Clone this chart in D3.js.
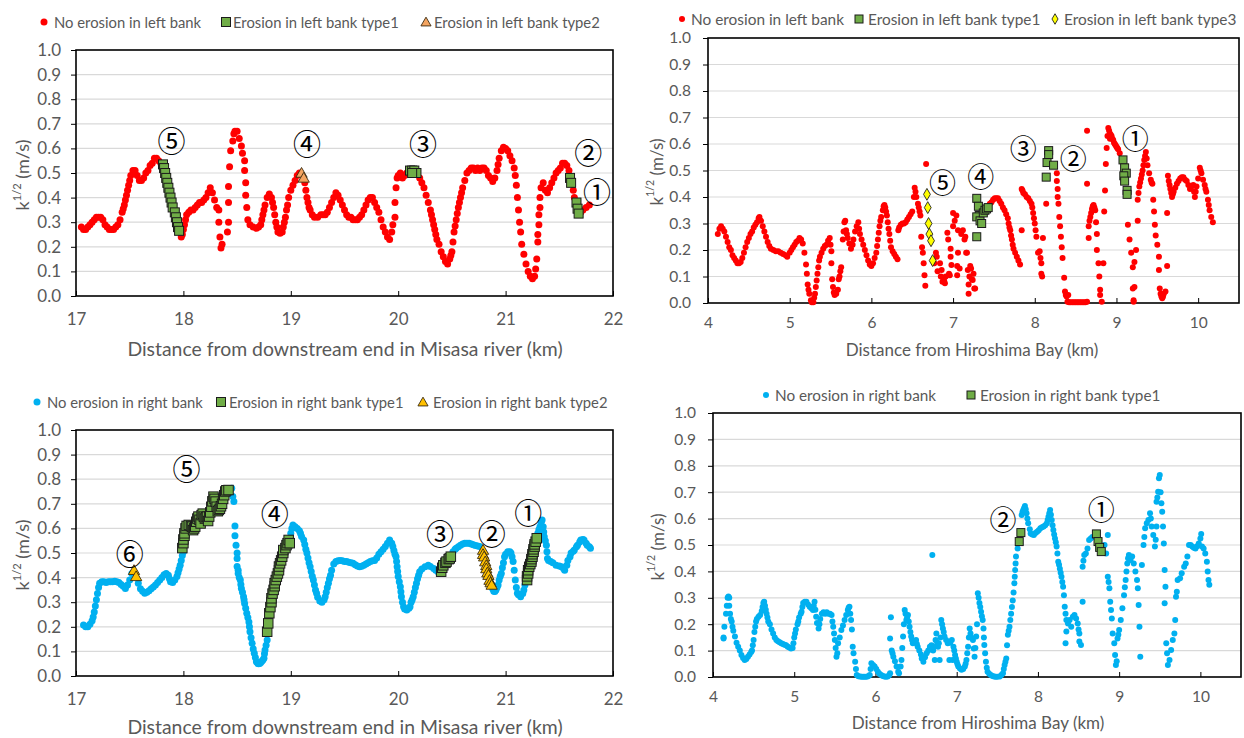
<!DOCTYPE html>
<html><head><meta charset="utf-8">
<script src="https://cdn.jsdelivr.net/npm/d3@7"></script>
<style>body{margin:0;background:#fff}svg{display:block}</style>
</head><body>
<svg id="chart" width="1244" height="738"></svg>
<script>
// ---------- tick labels ----------
const yTicks = [0,0.1,0.2,0.3,0.4,0.5,0.6,0.7,0.8,0.9,1.0];
const misasaTicks = [17,18,19,20,21,22];
const bayTicks = [4,5,6,7,8,9,10];

// ---------- Panel 1: Misasa river, left bank ----------
const misasaLeftNoErosion = [
[17.05,.28],[17.07,.27],[17.09,.27],[17.11,.28],[17.13,.29],[17.15,.30],[17.17,.31],[17.19,.32],[17.21,.32],[17.23,.32],[17.25,.31],[17.27,.29],[17.29,.28],[17.31,.27],[17.33,.27],[17.35,.27],[17.37,.28],[17.39,.29],[17.41,.31],[17.43,.34],[17.44,.355],[17.45,.37],[17.46,.39],[17.47,.41],[17.48,.43],[17.49,.45],[17.5,.47],[17.51,.49],[17.53,.51],[17.55,.51],[17.57,.49],[17.59,.47],[17.61,.47],[17.63,.48],[17.65,.50],[17.67,.51],[17.69,.53],[17.71,.54],[17.73,.56],[17.75,.56],[17.77,.55],[17.79,.54],
[17.98,.24],[17.99,.25],[18.0,.27],[18.01,.29],[18.02,.31],[18.03,.33],[18.05,.34],[18.07,.35],[18.09,.35],[18.11,.36],[18.13,.37],[18.15,.38],[18.17,.38],[18.19,.39],[18.21,.40],[18.23,.42],[18.25,.44],[18.27,.42],[18.29,.39],[18.31,.36],[18.33,.35],[18.33,.30],[18.34,.24],[18.35,.195],[18.36,.21],[18.41,.26],[18.42,.30],[18.42,.38],[18.42,.445],[18.43,.525],[18.44,.59],[18.46,.63],[18.47,.66],[18.48,.67],[18.5,.67],[18.52,.64],[18.54,.61],[18.55,.58],[18.57,.55],[18.57,.51],[18.58,.46],[18.58,.41],[18.59,.36],[18.6,.31],[18.62,.29],[18.65,.28],[18.68,.275],[18.7,.28],[18.72,.29],[18.73,.31],[18.74,.33],[18.75,.35],[18.76,.37],[18.78,.40],[18.8,.415],[18.82,.40],[18.83,.38],[18.84,.36],[18.85,.33],[18.86,.30],[18.87,.28],[18.88,.26],[18.9,.255],[18.92,.26],[18.93,.28],[18.94,.30],[18.95,.32],[18.96,.35],[18.97,.37],[18.98,.40],[19.0,.43],[19.02,.45],[19.04,.47],[19.06,.49],[19.08,.50],
[19.13,.46],[19.14,.43],[19.15,.40],[19.16,.38],[19.17,.36],[19.18,.35],[19.2,.33],[19.22,.32],[19.25,.32],[19.28,.33],[19.3,.33],[19.32,.33],[19.34,.34],[19.36,.36],[19.38,.38],[19.4,.40],[19.42,.42],[19.44,.41],[19.46,.39],[19.48,.37],[19.5,.35],[19.52,.33],[19.54,.32],[19.56,.32],[19.58,.31],[19.6,.31],[19.62,.31],[19.64,.32],[19.66,.33],[19.68,.35],[19.7,.37],[19.72,.39],[19.74,.40],[19.76,.40],[19.78,.38],[19.8,.36],[19.82,.34],[19.84,.31],[19.86,.28],[19.88,.26],[19.9,.24],[19.92,.23],[19.94,.26],[19.95,.29],[19.97,.32],[19.97,.38],[19.98,.44],[19.99,.48],[20.0,.49],[20.02,.50],[20.04,.48],[20.06,.49],[20.08,.50],
[20.18,.50],[20.2,.48],[20.22,.46],[20.24,.44],[20.26,.41],[20.28,.38],[20.3,.35],[20.31,.33],[20.32,.31],[20.33,.29],[20.34,.27],[20.35,.25],[20.36,.23],[20.38,.21],[20.4,.18],[20.42,.16],[20.44,.14],[20.46,.13],[20.48,.15],[20.49,.165],[20.5,.18],[20.51,.22],[20.52,.26],[20.53,.285],[20.54,.31],[20.55,.335],[20.56,.36],[20.57,.38],[20.58,.40],[20.59,.42],[20.6,.44],[20.62,.47],[20.64,.50],[20.66,.51],[20.68,.52],[20.7,.52],[20.72,.51],[20.74,.52],[20.76,.51],[20.78,.52],[20.8,.52],[20.82,.51],[20.84,.49],[20.86,.48],[20.88,.465],[20.9,.48],[20.92,.51],[20.93,.535],[20.94,.56],[20.96,.59],[20.98,.605],[21.0,.60],[21.02,.59],[21.04,.57],[21.06,.55],[21.08,.52],[21.09,.49],[21.1,.45],[21.11,.40],[21.12,.35],[21.13,.30],[21.14,.26],[21.15,.21],[21.17,.17],[21.19,.13],[21.21,.10],[21.23,.08],[21.25,.07],[21.27,.08],[21.28,.11],[21.29,.15],[21.3,.22],[21.3,.25],[21.31,.29],[21.31,.33],[21.32,.36],[21.32,.40],[21.33,.44],[21.35,.46],[21.37,.43],[21.39,.42],[21.41,.44],[21.43,.46],[21.45,.48],[21.47,.50],[21.49,.51],[21.51,.52],[21.53,.54],[21.55,.54],[21.57,.53],[21.59,.51],
[21.63,.43],[21.64,.40],[21.7,.34],[21.72,.35],[21.75,.36],[21.78,.37]
];
const misasaLeftType1 = [
[17.81,.535],[17.82,.52],[17.83,.50],[17.84,.48],[17.85,.46],[17.86,.44],[17.87,.42],[17.88,.40],[17.89,.38],[17.9,.36],[17.92,.34],[17.93,.32],[17.94,.30],[17.95,.28],[17.96,.265],
[20.11,.51],[20.13,.51],[20.15,.51],[20.17,.50],[20.13,.50],
[21.6,.48],[21.61,.46],[21.66,.38],[21.67,.355],[21.68,.335]
];
const misasaLeftType2 = [[19.1,.50],[19.12,.48]];
const misasaLeftLabels = [["⑤",17.89,.634],["④",19.15,.62],["③",20.23,.62],["②",21.77,.584],["①",21.85,.428]];

// ---------- Panel 2: Hiroshima Bay, left bank ----------
const bayLeftNoErosion = [
[4.12,.26],[4.14,.28],[4.16,.29],[4.18,.28],[4.2,.27],[4.22,.25],[4.24,.23],[4.26,.21],[4.28,.20],[4.3,.18],[4.32,.17],[4.34,.16],[4.36,.15],[4.38,.15],[4.4,.155],[4.42,.17],[4.44,.19],[4.46,.21],[4.48,.23],[4.5,.245],[4.52,.26],[4.54,.27],[4.56,.285],[4.58,.295],[4.6,.305],[4.62,.32],[4.63,.325],[4.65,.31],[4.67,.29],[4.69,.27],[4.71,.25],[4.73,.23],[4.75,.215],[4.77,.205],[4.8,.20],[4.83,.195],[4.86,.195],[4.89,.19],[4.92,.185],[4.95,.18],[4.97,.175],[5.0,.19],[5.02,.20],[5.04,.21],[5.06,.22],[5.08,.23],[5.1,.235],[5.12,.245],[5.14,.24],[5.16,.225],[5.18,.19],[5.2,.145],[5.21,.11],[5.22,.07],[5.23,.05],[5.24,.035],[5.26,.01],[5.27,.003],[5.29,.003],[5.3,.02],[5.31,.035],[5.32,.06],[5.33,.085],[5.34,.11],[5.35,.135],[5.36,.16],[5.37,.175],[5.39,.19],[5.41,.205],[5.43,.215],[5.45,.22],[5.47,.235],[5.49,.245],[5.5,.22],[5.51,.195],[5.51,.15],[5.52,.09],[5.53,.06],[5.54,.04],[5.55,.03],[5.57,.035],[5.59,.05],[5.6,.09],[5.61,.10],[5.62,.12],[5.63,.135],[5.65,.24],[5.66,.27],[5.67,.305],[5.68,.31],[5.69,.275],[5.7,.26],[5.71,.245],[5.73,.225],[5.75,.205],[5.77,.22],[5.78,.24],[5.8,.27],[5.82,.29],[5.84,.305],[5.85,.28],[5.86,.26],[5.88,.24],[5.9,.22],[5.92,.20],[5.94,.18],[5.96,.16],[5.98,.145],[6.0,.14],[6.02,.15],[6.04,.17],[6.06,.19],[6.07,.215],[6.08,.24],[6.09,.265],[6.1,.29],[6.11,.31],[6.12,.325],[6.14,.35],[6.15,.365],[6.16,.37],[6.17,.36],[6.18,.345],[6.19,.33],[6.2,.305],[6.21,.28],[6.22,.26],[6.23,.235],[6.24,.21],[6.26,.195],[6.28,.185],[6.3,.175],[6.32,.165],[6.33,.275],[6.34,.285],[6.36,.295],[6.38,.30],[6.4,.30],[6.42,.305],[6.44,.315],[6.46,.325],[6.48,.335],[6.5,.345],[6.52,.40],[6.53,.435],[6.54,.42],[6.55,.40],[6.57,.375],[6.58,.36],[6.59,.345],[6.6,.33],[6.61,.25],[6.62,.21],[6.63,.19],[6.64,.15],[6.65,.105],[6.66,.065],[6.67,.525],
[6.79,.19],[6.8,.175],[6.77,.15],[6.81,.12],[6.84,.15],[6.85,.10],[6.86,.125],[6.87,.08],[6.88,.095],[6.89,.085],[6.9,.075],[6.91,.10],[6.93,.265],[6.94,.24],[6.95,.11],[6.96,.105],[6.97,.205],[6.97,.175],[6.98,.143],[7.0,.34],[7.0,.29],[7.02,.31],[7.04,.33],[7.05,.14],[7.05,.105],[7.06,.275],[7.06,.19],[7.08,.13],[7.1,.26],[7.12,.275],[7.14,.24],[7.15,.25],[7.16,.19],[7.17,.19],[7.18,.125],[7.19,.07],[7.19,.035],[7.2,.10],[7.21,.14],[7.22,.13],[7.23,.09],[7.24,.087],[7.25,.11],[7.26,.055],[7.27,.055],
[7.45,.375],[7.47,.38],[7.49,.39],[7.51,.395],[7.53,.395],[7.55,.395],[7.57,.385],[7.59,.375],[7.61,.36],[7.63,.35],[7.65,.335],[7.67,.32],[7.68,.30],[7.69,.285],[7.7,.275],[7.71,.255],[7.72,.24],[7.73,.22],[7.74,.205],[7.76,.19],[7.78,.175],[7.8,.16],[7.82,.145],[7.84,.275],[7.84,.43],[7.85,.425],[7.86,.415],[7.88,.41],[7.9,.40],[7.92,.395],[7.94,.385],[7.96,.375],[7.97,.36],[7.98,.34],[7.99,.32],[8.0,.30],[8.01,.275],[8.02,.25],[8.04,.19],[8.06,.195],[8.07,.17],[8.08,.15],[8.08,.11],[8.09,.10],[8.1,.245],[8.14,.375],
[8.27,.49],[8.27,.46],[8.28,.43],[8.28,.40],[8.29,.375],[8.3,.325],[8.31,.29],[8.32,.25],[8.33,.21],[8.34,.17],[8.36,.095],[8.37,.043],[8.38,.03],[8.39,.025],[8.41,.03],[8.4,.005],[8.42,.003],[8.44,.003],[8.46,.003],[8.48,.003],[8.5,.003],[8.52,.003],[8.54,.003],[8.56,.003],[8.58,.003],[8.6,.003],[8.62,.003],[8.64,.005],
[8.64,.45],[8.64,.65],[8.66,.245],[8.66,.29],[8.67,.31],[8.68,.325],[8.69,.34],[8.7,.355],[8.71,.365],[8.72,.37],[8.73,.36],[8.74,.35],[8.75,.305],[8.76,.26],[8.76,.20],[8.78,.15],[8.79,.10],[8.8,.05],[8.8,.03],[8.82,.005],[8.84,.15],[8.85,.345],[8.86,.425],[8.87,.525],[8.88,.585],[8.89,.63],[8.9,.66],[8.91,.65],[8.92,.64],[8.92,.62],[8.93,.635],[8.94,.63],[8.95,.62],[8.96,.615],[8.97,.605],[8.98,.60],[8.99,.595],[9.0,.59],[9.01,.585],[9.02,.58],[9.04,.565],
[9.14,.295],[9.16,.24],[9.18,.19],[9.2,.135],[9.2,.055],[9.21,.005],[9.21,.01],[9.22,.06],[9.22,.155],[9.24,.20],[9.26,.31],[9.26,.39],[9.27,.415],[9.28,.44],[9.29,.455],[9.3,.47],[9.31,.485],[9.32,.50],[9.33,.52],[9.34,.54],[9.35,.555],[9.36,.57],[9.37,.545],[9.38,.52],[9.4,.49],[9.42,.465],[9.43,.455],[9.44,.45],[9.45,.39],[9.46,.345],[9.47,.295],[9.48,.255],[9.5,.22],[9.52,.175],[9.52,.125],[9.53,.055],[9.54,.035],[9.55,.025],[9.56,.018],[9.57,.025],[9.58,.035],[9.6,.043],[9.62,.14],[9.62,.34],[9.63,.48],[9.64,.46],[9.65,.445],[9.66,.43],[9.67,.415],[9.68,.40],[9.69,.41],[9.7,.42],[9.72,.435],[9.74,.45],[9.76,.46],[9.78,.47],[9.8,.475],[9.82,.475],[9.84,.465],[9.86,.46],[9.88,.445],[9.9,.43],[9.92,.44],[9.94,.445],[9.95,.42],[9.96,.40],[9.97,.42],[9.98,.44],[10.0,.47],[10.02,.51],[10.03,.50],[10.04,.49],[10.06,.465],[10.08,.445],[10.09,.43],[10.1,.42],[10.12,.39],[10.13,.37],[10.14,.35],[10.16,.325],[10.18,.305]
];
const bayLeftType1 = [[7.29,.395],[7.31,.365],[7.32,.33],[7.29,.325],[7.33,.31],[7.35,.30],[7.37,.34],[7.39,.35],[7.41,.355],[7.43,.36],[7.29,.25],[8.17,.575],[8.17,.56],[8.15,.53],[8.23,.52],[8.14,.475],[9.08,.54],[9.1,.51],[9.12,.49],[9.09,.48],[9.1,.46],[9.13,.425],[9.13,.41]];
const bayLeftType3 = [[6.68,.41],[6.69,.36],[6.70,.30],[6.71,.26],[6.73,.235],[6.75,.16]];
const bayLeftLabels = [["⑤",6.87,.457],["④",7.34,.483],["③",7.86,.585],["②",8.47,.55],["①",9.23,.626]];

// ---------- Panel 3: Misasa river, right bank ----------
const misasaRightNoErosion = [
[17.07,.207],[17.09,.20],[17.11,.20],[17.13,.21],[17.15,.225],[17.16,.24],[17.17,.26],[17.18,.285],[17.19,.31],[17.2,.335],[17.21,.36],[17.22,.377],[17.24,.383],[17.26,.383],[17.28,.38],[17.3,.383],[17.32,.383],[17.34,.383],[17.36,.385],[17.38,.383],[17.4,.38],[17.42,.372],[17.44,.365],[17.46,.356],[17.48,.37],[17.5,.39],[17.52,.417],
[17.58,.377],[17.6,.355],[17.62,.345],[17.64,.336],[17.66,.34],[17.68,.347],[17.7,.355],[17.72,.362],[17.74,.37],[17.76,.38],[17.78,.39],[17.8,.40],[17.82,.412],[17.84,.417],[17.86,.41],[17.87,.395],[17.88,.383],[17.9,.38],[17.92,.39],[17.94,.404],[17.95,.42],[17.96,.435],[17.97,.45],[17.98,.47],[17.99,.49],[18.0,.505],
[18.45,.763],[18.46,.73],[18.47,.709],[18.48,.61],[18.48,.57],[18.49,.532],[18.5,.50],[18.5,.478],[18.5,.445],[18.51,.43],[18.51,.417],[18.52,.40],[18.53,.39],[18.535,.372],[18.54,.356],[18.55,.34],[18.56,.322],[18.565,.31],[18.57,.295],[18.58,.275],[18.59,.255],[18.6,.238],[18.61,.22],[18.615,.20],[18.62,.18],[18.63,.155],[18.64,.133],[18.65,.11],[18.66,.092],[18.67,.075],[18.68,.058],[18.69,.052],[18.7,.05],[18.71,.051],[18.72,.055],[18.73,.06],[18.74,.065],[18.75,.072],[18.755,.09],[18.76,.106],[18.77,.125],[18.78,.146],
[19.0,.58],[19.01,.60],[19.02,.614],[19.04,.607],[19.06,.60],[19.08,.59],[19.09,.58],[19.1,.567],[19.12,.553],[19.13,.535],[19.14,.515],[19.15,.50],[19.16,.48],[19.17,.46],[19.18,.444],[19.19,.425],[19.2,.405],[19.21,.39],[19.22,.37],[19.23,.35],[19.24,.336],[19.25,.32],[19.27,.305],[19.29,.30],[19.31,.31],[19.32,.322],[19.33,.34],[19.34,.36],[19.35,.377],[19.36,.395],[19.37,.41],[19.38,.43],[19.4,.455],[19.42,.465],[19.44,.468],[19.46,.47],[19.48,.468],[19.5,.465],[19.52,.465],[19.54,.462],[19.56,.46],[19.58,.458],[19.6,.452],[19.62,.447],[19.64,.444],[19.66,.446],[19.68,.45],[19.7,.455],[19.72,.46],[19.74,.465],[19.76,.468],[19.78,.47],[19.8,.48],[19.82,.495],[19.84,.505],[19.86,.515],[19.88,.526],[19.9,.54],[19.92,.553],[19.94,.54],[19.95,.526],[19.96,.51],[19.97,.495],[19.98,.485],[19.985,.465],[19.99,.444],[19.995,.425],[20.0,.404],[20.01,.383],[20.02,.363],[20.025,.342],[20.03,.322],[20.04,.30],[20.05,.282],[20.06,.272],[20.08,.268],[20.1,.275],[20.11,.282],[20.12,.30],[20.13,.31],[20.14,.322],[20.15,.34],[20.16,.36],[20.17,.377],[20.18,.395],[20.19,.41],[20.2,.424],[20.22,.435],[20.25,.444],[20.28,.45],[20.3,.445],[20.33,.437],[20.35,.43],[20.37,.424],
[20.51,.505],[20.53,.515],[20.54,.519],[20.56,.525],[20.58,.532],[20.6,.537],[20.62,.54],[20.64,.54],[20.66,.54],[20.68,.537],[20.7,.534],[20.72,.53],[20.74,.528],[20.76,.526],
[20.88,.355],[20.89,.345],[20.9,.343],[20.91,.35],[20.92,.36],[20.93,.37],[20.94,.39],[20.95,.405],[20.96,.417],[20.97,.44],[20.98,.46],[20.99,.485],[21.0,.495],[21.02,.505],[21.04,.505],[21.05,.50],[21.06,.485],[21.07,.465],[21.08,.43],[21.09,.39],[21.1,.36],[21.11,.336],[21.12,.33],[21.14,.322],[21.16,.335],[21.17,.35],[21.18,.37],
[21.3,.58],[21.31,.595],[21.32,.607],[21.33,.625],[21.34,.634],[21.35,.607],[21.355,.585],[21.36,.566],[21.37,.55],[21.38,.532],[21.385,.505],[21.39,.478],[21.4,.47],[21.42,.465],[21.44,.46],[21.47,.45],[21.5,.447],[21.52,.444],[21.54,.437],[21.55,.43],[21.57,.45],[21.58,.47],[21.6,.485],[21.61,.50],[21.63,.507],[21.64,.512],[21.66,.525],[21.67,.532],[21.69,.545],[21.7,.553],[21.72,.555],[21.73,.553],[21.75,.54],[21.76,.532],[21.78,.525],[21.79,.519]
];
const misasaRightType1 = [
[17.99,.52],[18.0,.54],[18.0,.555],[18.01,.57],[18.01,.58],[18.02,.60],[18.03,.61],[18.05,.614],[18.07,.61],[18.08,.607],[18.09,.593],[18.1,.60],[18.11,.607],[18.12,.627],[18.13,.64],[18.14,.648],[18.15,.635],[18.16,.62],[18.17,.654],[18.18,.66],[18.19,.648],[18.2,.64],[18.21,.645],[18.22,.648],[18.23,.63],[18.24,.648],[18.25,.665],[18.26,.688],[18.27,.71],[18.28,.729],[18.29,.72],[18.3,.709],[18.31,.688],[18.32,.67],[18.33,.675],[18.34,.68],[18.35,.69],[18.36,.70],[18.37,.72],[18.38,.735],[18.39,.75],[18.4,.755],[18.42,.756],
[18.78,.18],[18.79,.214],[18.8,.255],[18.81,.28],[18.82,.30],[18.82,.316],[18.83,.335],[18.84,.35],[18.85,.365],[18.85,.377],[18.86,.39],[18.87,.404],[18.88,.417],[18.89,.43],[18.89,.445],[18.9,.458],[18.91,.47],[18.92,.485],[18.93,.50],[18.93,.512],[18.95,.52],[18.96,.532],[18.97,.54],[18.98,.553],[18.99,.54],
[20.4,.424],[20.41,.44],[20.42,.45],[20.44,.46],[20.45,.465],[20.47,.475],[20.48,.478],[20.49,.485],
[21.2,.39],[21.2,.405],[21.21,.417],[21.21,.43],[21.22,.444],[21.23,.455],[21.24,.465],[21.24,.475],[21.25,.485],[21.25,.495],[21.26,.505],[21.26,.515],[21.27,.526],[21.27,.535],[21.28,.546],[21.29,.56]
];
const misasaRightType2 = [[17.54,.43],[17.56,.405],[20.79,.512],[20.79,.495],[20.8,.485],[20.81,.465],[20.82,.45],[20.82,.437],[20.83,.42],[20.84,.41],[20.85,.39],[20.86,.38],[20.87,.37]];
const misasaRightLabels = [["⑥",17.5,.50],["⑤",18.03,.846],["④",18.85,.663],["③",20.39,.58],["②",20.87,.58],["①",21.21,.667]];

// ---------- Panel 4: Hiroshima Bay, right bank ----------
const bayRightNoErosion = [
[4.13,.146],[4.13,.15],[4.14,.19],[4.16,.24],[4.17,.27],[4.18,.30],[4.19,.305],[4.2,.30],[4.2,.27],[4.21,.24],[4.22,.22],[4.23,.21],[4.24,.19],[4.25,.175],[4.27,.153],[4.29,.13],[4.31,.115],[4.33,.10],[4.35,.083],[4.37,.072],[4.39,.064],[4.41,.068],[4.43,.077],[4.45,.085],[4.47,.095],[4.48,.10],[4.49,.12],[4.5,.14],[4.51,.17],[4.52,.19],[4.53,.21],[4.54,.22],[4.56,.228],[4.58,.235],[4.6,.25],[4.61,.265],[4.62,.28],[4.63,.285],[4.64,.27],[4.65,.255],[4.66,.24],[4.67,.225],[4.68,.21],[4.7,.20],[4.72,.18],[4.74,.165],[4.76,.15],[4.78,.14],[4.8,.135],[4.82,.132],[4.84,.128],[4.86,.125],[4.88,.122],[4.9,.12],[4.92,.115],[4.94,.112],[4.96,.108],[4.98,.11],[4.99,.128],[5.0,.15],[5.01,.165],[5.02,.18],[5.04,.20],[5.05,.21],[5.06,.225],[5.08,.24],[5.09,.247],[5.1,.265],[5.11,.28],[5.13,.285],[5.15,.285],[5.17,.275],[5.19,.266],[5.21,.26],[5.23,.254],[5.24,.27],[5.25,.285],[5.26,.255],[5.27,.228],[5.28,.205],[5.3,.184],[5.31,.20],[5.32,.22],[5.34,.24],[5.36,.245],[5.38,.24],[5.4,.245],[5.42,.24],[5.44,.24],[5.46,.235],[5.47,.21],[5.48,.19],[5.49,.165],[5.5,.14],[5.51,.11],[5.52,.077],[5.53,.09],[5.54,.128],[5.56,.15],[5.58,.178],[5.6,.195],[5.62,.216],[5.64,.235],[5.66,.254],[5.67,.262],[5.68,.266],[5.69,.24],[5.7,.216],[5.71,.18],[5.72,.115],[5.73,.09],[5.75,.058],[5.76,.03],[5.77,.008],[5.79,.003],[5.81,.002],[5.83,.001],[5.85,.001],[5.87,.001],[5.89,.001],[5.91,.003],[5.93,.008],[5.94,.03],[5.95,.052],[5.97,.045],[5.99,.04],[6.01,.03],[6.03,.02],[6.05,.012],[6.07,.008],[6.09,.004],[6.11,.002],[6.13,.001],[6.15,.002],[6.17,.008],[6.18,.014],[6.18,.146],[6.19,.226],[6.2,.10],[6.21,.09],[6.22,.077],[6.24,.06],[6.26,.04],[6.28,.02],[6.29,.014],[6.31,.04],[6.32,.064],[6.33,.11],[6.34,.153],[6.35,.20],[6.36,.254],[6.37,.24],[6.38,.216],[6.39,.225],[6.4,.235],[6.41,.21],[6.42,.19],[6.43,.17],[6.44,.153],[6.45,.14],[6.46,.128],[6.48,.135],[6.5,.14],[6.51,.125],[6.52,.115],[6.54,.10],[6.56,.085],[6.57,.07],[6.59,.058],[6.61,.075],[6.63,.09],[6.65,.10],[6.67,.115],[6.69,.12],[6.7,.462],[6.71,.10],[6.72,.115],[6.73,.064],[6.74,.14],[6.75,.165],[6.76,.13],[6.77,.115],[6.78,.128],[6.79,.064],[6.8,.15],[6.81,.216],[6.82,.20],[6.83,.184],[6.84,.17],[6.85,.153],[6.87,.14],[6.89,.128],[6.91,.064],[6.92,.13],[6.94,.14],[6.95,.064],[6.96,.115],[6.97,.10],[6.98,.083],[6.99,.07],[7.0,.058],[7.01,.048],[7.02,.04],[7.04,.032],[7.06,.027],[7.08,.03],[7.1,.04],[7.11,.05],[7.12,.064],[7.13,.09],[7.14,.115],[7.15,.15],[7.16,.184],[7.17,.165],[7.18,.15],[7.2,.14],[7.21,.108],[7.22,.077],[7.23,.11],[7.24,.153],[7.25,.20],[7.26,.317],[7.27,.30],[7.28,.28],[7.29,.265],[7.3,.247],[7.31,.23],[7.32,.216],[7.33,.184],[7.335,.15],[7.34,.121],[7.35,.09],[7.36,.058],[7.37,.035],[7.38,.02],[7.4,.012],[7.42,.008],[7.44,.004],[7.46,.002],[7.48,.001],[7.5,.001],[7.53,.002],[7.55,.008],[7.57,.014],[7.58,.03],[7.59,.045],[7.6,.058],[7.61,.07],[7.62,.12],[7.63,.16],[7.64,.175],[7.65,.19],[7.66,.216],[7.67,.24],[7.68,.265],[7.69,.29],[7.7,.32],[7.71,.355],[7.715,.38],[7.72,.405],[7.725,.43],[7.73,.456],[7.75,.487],
[7.8,.614],[7.81,.625],[7.82,.633],[7.83,.64],[7.84,.648],[7.85,.635],[7.86,.62],[7.87,.60],[7.88,.582],[7.9,.56],[7.91,.544],[7.93,.54],[7.95,.538],[7.97,.545],[7.99,.55],[8.01,.556],[8.03,.563],[8.05,.567],[8.07,.57],[8.09,.575],[8.11,.582],[8.12,.595],[8.13,.607],[8.14,.62],[8.15,.633],[8.16,.615],[8.17,.595],[8.18,.575],[8.19,.557],[8.2,.54],[8.21,.525],[8.22,.51],[8.23,.494],[8.24,.468],[8.25,.437],[8.26,.425],[8.27,.41],[8.28,.395],[8.29,.38],[8.3,.36],[8.31,.342],[8.32,.31],[8.33,.266],[8.34,.24],[8.35,.216],[8.35,.172],[8.34,.128],[8.37,.203],[8.39,.216],[8.41,.19],[8.43,.228],[8.45,.235],[8.47,.222],[8.49,.203],[8.5,.18],[8.51,.165],[8.51,.134],[8.53,.121],[8.55,.285],[8.55,.418],[8.56,.44],[8.57,.462],[8.59,.468],[8.61,.487],[8.63,.519],[8.65,.525],[8.67,.53],
[8.82,.50],[8.84,.468],[8.86,.538],[8.86,.38],[8.87,.36],[8.88,.336],[8.89,.285],[8.9,.254],[8.91,.222],[8.92,.165],[8.94,.128],[8.95,.083],[8.96,.045],[8.97,.06],[8.98,.146],[8.99,.16],[9.0,.178],[9.02,.216],[9.04,.26],[9.06,.31],[9.07,.34],[9.08,.367],[9.09,.40],[9.1,.43],[9.11,.45],[9.12,.462],[9.13,.455],[9.14,.443],[9.16,.456],[9.18,.43],[9.2,.40],[9.22,.367],[9.23,.336],[9.24,.273],[9.25,.19],[9.26,.077],[9.28,.424],[9.3,.50],[9.31,.53],[9.32,.563],[9.34,.582],[9.36,.595],[9.38,.62],[9.39,.60],[9.4,.57],[9.42,.538],[9.44,.494],[9.45,.52],[9.46,.57],[9.46,.664],[9.47,.68],[9.48,.702],[9.49,.753],[9.5,.765],[9.51,.70],[9.52,.658],[9.53,.626],[9.54,.57],[9.55,.506],[9.56,.405],[9.57,.342],[9.56,.279],[9.58,.128],[9.59,.09],[9.6,.045],[9.62,.064],[9.64,.102],[9.66,.14],[9.68,.165],[9.69,.216],[9.7,.304],[9.71,.323],[9.72,.367],[9.75,.374],[9.77,.393],[9.8,.418],[9.82,.43],[9.84,.456],[9.86,.50],[9.88,.50],[9.9,.494],[9.92,.49],[9.94,.487],[9.96,.495],[9.98,.506],[10.0,.525],[10.01,.542],[10.02,.494],[10.04,.487],[10.06,.468],[10.08,.437],[10.09,.40],[10.1,.367],[10.11,.349]
];
const bayRightType1 = [[7.77,.513],[7.79,.547],[8.72,.542],[8.74,.513],[8.76,.491],[8.78,.475]];
const bayRightLabels = [["②",7.57,.602],["①",8.78,.64]];

// ---------- drawing ----------
const svg = d3.select("#chart");
const FONT = "Lato, 'Open Sans', sans-serif";
const GREY = "#595959";

function marker(g, kind, x, y, size) {
  if (kind === "dot") {
    g.append("circle").attr("cx", x).attr("cy", y).attr("r", size/2).attr("fill", "#FF0000");
  } else if (kind === "bdot") {
    g.append("circle").attr("cx", x).attr("cy", y).attr("r", size/2).attr("fill", "#00B0F0");
  } else if (kind === "sq") {
    g.append("rect").attr("x", x-size/2).attr("y", y-size/2).attr("width", size).attr("height", size)
      .attr("fill", "#70AD47").attr("stroke", "#1b1b1b").attr("stroke-width", 1);
  } else if (kind === "triO" || kind === "triY") {
    g.append("path").attr("transform", `translate(${x},${y+1})`)
      .attr("d", d3.symbol(d3.symbolTriangle, size*size*0.55)())
      .attr("fill", kind === "triO" ? "#F4A460" : "#FFC000").attr("stroke", "#3a2a10").attr("stroke-width", 0.9);
  } else if (kind === "dia") {
    g.append("path").attr("transform", `translate(${x},${y})`)
      .attr("d", d3.symbol(d3.symbolDiamond, size*size*0.5)())
      .attr("fill", "#FFFF00").attr("stroke", "#222").attr("stroke-width", 0.9);
  }
}

function panel(cfg) {
  const g = svg.append("g");
  const x = d3.scaleLinear().domain(cfg.xDomain).range([cfg.left, cfg.right]);
  const y = d3.scaleLinear().domain([0, 1]).range([cfg.bottom, cfg.top]);

  // gridlines
  g.selectAll(".grid").data(yTicks.filter(t => t > 0 && t < 1)).enter().append("line")
    .attr("x1", cfg.left).attr("x2", cfg.right).attr("y1", d => y(d)).attr("y2", d => y(d))
    .attr("stroke", "#d9d9d9").attr("stroke-width", 1.2);

  // y axis ticks + labels
  const yAxis = d3.axisLeft(y).tickValues(yTicks).tickFormat(d3.format(".1f")).tickSize(5).tickPadding(cfg.yPad);
  const ya = g.append("g").attr("transform", `translate(${cfg.left},0)`).call(yAxis);
  ya.select(".domain").remove();
  ya.selectAll("line").attr("stroke", "#000");
  ya.selectAll("text").attr("font-family", FONT).attr("font-size", cfg.tickFont).attr("fill", GREY);

  // x axis ticks (inside) + labels
  const xAxis = d3.axisBottom(x).tickValues(cfg.xTicks).tickFormat(d3.format("d")).tickSize(-5).tickPadding(cfg.xPad);
  const xa = g.append("g").attr("transform", `translate(0,${cfg.bottom})`).call(xAxis);
  xa.select(".domain").remove();
  xa.selectAll("line").attr("stroke", "#000");
  xa.selectAll("text").attr("font-family", FONT).attr("font-size", cfg.tickFont).attr("fill", GREY);

  // frame
  g.append("rect").attr("x", cfg.left).attr("y", cfg.top).attr("width", cfg.right - cfg.left)
    .attr("height", cfg.bottom - cfg.top).attr("fill", "none").attr("stroke", "#000").attr("stroke-width", 1.6);

  // series
  const plot = g.append("g");
  cfg.series.forEach(s => {
    s.data.forEach(d => marker(plot, s.kind, x(d[0]), y(d[1]), s.size));
  });

  // circled labels
  g.selectAll(".lab").data(cfg.labels).enter().append("text")
    .attr("x", d => x(d[1])).attr("y", d => y(d[2]))
    .attr("text-anchor", "middle").attr("dominant-baseline", "central")
    .attr("font-family", "'Noto Sans CJK JP', 'DejaVu Sans', sans-serif")
    .attr("font-size", cfg.labelFont).attr("fill", "#000").text(d => d[0]);

  // axis titles
  g.append("text").attr("x", cfg.xTitle[0]).attr("y", cfg.xTitle[1]).attr("text-anchor", "middle")
    .attr("dominant-baseline", "central").attr("font-family", FONT).attr("font-size", cfg.xTitleFont)
    .attr("fill", GREY).text(cfg.xTitleText);
  const yt = g.append("text").attr("transform", `translate(${cfg.yTitle[0]},${cfg.yTitle[1]}) rotate(-90)`)
    .attr("text-anchor", "middle").attr("dominant-baseline", "central")
    .attr("font-family", FONT).attr("font-size", cfg.titleFont).attr("fill", GREY);
  yt.append("tspan").text("k");
  yt.append("tspan").attr("font-size", cfg.titleFont*0.62).attr("dy", -6).text("1/2");
  yt.append("tspan").attr("dy", 6).text(" (m/s)");

  // legend
  cfg.legend.forEach(it => {
    const lg = g.append("g");
    marker(lg, it.kind, it.mx, cfg.legendY, it.size);
    lg.append("text").attr("x", it.tx).attr("y", cfg.legendY).attr("dominant-baseline", "central")
      .attr("font-family", FONT).attr("font-size", cfg.legendFont).attr("fill", GREY).text(it.text);
  });
}

panel({
  left: 76, right: 613, top: 50, bottom: 296, xDomain: [17, 22], xTicks: misasaTicks,
  tickFont: 17, titleFont: 18, xTitleFont: 19.4, legendFont: 14.8, labelFont: 28, yPad: 10, xPad: 17,
  xTitle: [345, 348], xTitleText: "Distance from downstream end in Misasa river (km)", yTitle: [22, 175],
  labels: misasaLeftLabels, legendY: 22,
  series: [
    {data: misasaLeftNoErosion, kind: "dot", size: 7},
    {data: misasaLeftType1, kind: "sq", size: 9},
    {data: misasaLeftType2, kind: "triO", size: 10}
  ],
  legend: [
    {kind: "dot", size: 7, mx: 44, tx: 54, text: "No erosion in left bank"},
    {kind: "sq", size: 9, mx: 226, tx: 233, text: "Erosion in left bank type1"},
    {kind: "triO", size: 9, mx: 426, tx: 434, text: "Erosion in left bank type2"}
  ]
});

panel({
  left: 708, right: 1239, top: 38, bottom: 303, xDomain: [4, 10.5], xTicks: bayTicks,
  tickFont: 15.5, titleFont: 17, xTitleFont: 17, legendFont: 15.4, labelFont: 27, yPad: 12, xPad: 14,
  xTitle: [972, 349], xTitleText: "Distance from Hiroshima Bay (km)", yTitle: [656, 172],
  labels: bayLeftLabels, legendY: 19,
  series: [
    {data: bayLeftNoErosion, kind: "dot", size: 6},
    {data: bayLeftType1, kind: "sq", size: 8},
    {data: bayLeftType3, kind: "dia", size: 9}
  ],
  legend: [
    {kind: "dot", size: 6, mx: 682, tx: 691, text: "No erosion in left bank"},
    {kind: "sq", size: 8, mx: 859, tx: 868, text: "Erosion in left bank type1"},
    {kind: "dia", size: 8, mx: 1055, tx: 1064, text: "Erosion in left bank type3"}
  ]
});

panel({
  left: 76, right: 613, top: 430, bottom: 676, xDomain: [17, 22], xTicks: misasaTicks,
  tickFont: 17, titleFont: 18, xTitleFont: 19.4, legendFont: 14.8, labelFont: 28, yPad: 10, xPad: 17,
  xTitle: [345, 726], xTitleText: "Distance from downstream end in Misasa river (km)", yTitle: [22, 555],
  labels: misasaRightLabels, legendY: 402,
  series: [
    {data: misasaRightNoErosion, kind: "bdot", size: 7},
    {data: misasaRightType1, kind: "sq", size: 9.5},
    {data: misasaRightType2, kind: "triY", size: 10}
  ],
  legend: [
    {kind: "bdot", size: 7, mx: 37, tx: 47, text: "No erosion in right bank"},
    {kind: "sq", size: 9, mx: 221, tx: 229, text: "Erosion in right bank type1"},
    {kind: "triY", size: 9, mx: 423, tx: 433, text: "Erosion in right bank type2"}
  ]
});

panel({
  left: 713, right: 1241, top: 413, bottom: 677, xDomain: [4, 10.5], xTicks: bayTicks,
  tickFont: 15.5, titleFont: 17, xTitleFont: 17, legendFont: 15.3, labelFont: 27, yPad: 12, xPad: 14,
  xTitle: [978, 722], xTitleText: "Distance from Hiroshima Bay (km)", yTitle: [657, 547],
  labels: bayRightLabels, legendY: 395,
  series: [
    {data: bayRightNoErosion, kind: "bdot", size: 6},
    {data: bayRightType1, kind: "sq", size: 8}
  ],
  legend: [
    {kind: "bdot", size: 6, mx: 766, tx: 775, text: "No erosion in right bank"},
    {kind: "sq", size: 8, mx: 971, tx: 980, text: "Erosion in right bank type1"}
  ]
});
</script>
</body></html>
